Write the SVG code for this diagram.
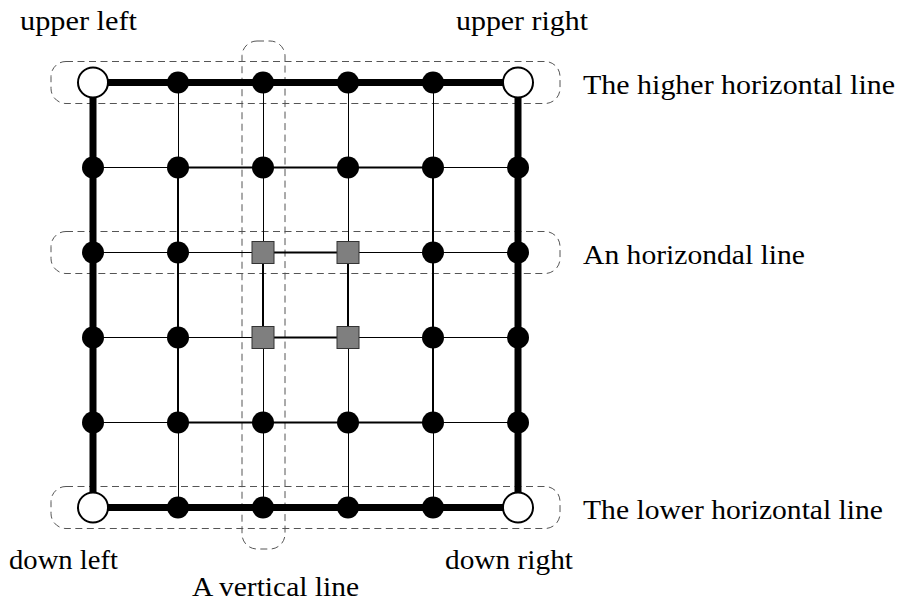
<svg xmlns="http://www.w3.org/2000/svg" width="897" height="604" viewBox="0 0 897 604">
<style>
.box{fill:none;stroke:#555;stroke-width:1;stroke-dasharray:7 4.5}
.thick{fill:none;stroke:#000;stroke-width:7;stroke-linecap:square}
.med{fill:none;stroke:#000;stroke-width:2}
.thin{fill:none;stroke:#000;stroke-width:1}
.dot{fill:#000}
.end{fill:#fff;stroke:#000;stroke-width:2}
.sq{fill:#7f7f7f;stroke:#333;stroke-width:1}
text{font-family:"Liberation Serif","DejaVu Serif",serif;font-size:27px;fill:#000}
</style>
<rect width="897" height="604" fill="#fff"/>
<g id="groups">
<rect id="higher-line" class="box" x="51" y="61.5" width="509" height="42" rx="15"/>
<rect id="horizontal-line" class="box" x="51" y="231.5" width="509" height="42" rx="15"/>
<rect id="lower-line" class="box" x="51" y="486.5" width="509" height="42" rx="15"/>
<rect id="vertical-line" class="box" x="242" y="41" width="43" height="508" rx="15"/>
</g>
<g id="connectors">
<rect class="thick" x="93" y="82.5" width="425" height="425"/>
<rect class="med" x="178" y="167.5" width="255" height="255"/>
<rect class="med" x="263" y="252.5" width="85" height="85"/>
<path class="thin" d="M93 167.5H178M433 167.5H518M93 252.5H263M348 252.5H518M93 337.5H263M348 337.5H518M93 422.5H178M433 422.5H518M178.5 82.5V167.5M178.5 422.5V507.5M263.5 82.5V252.5M263.5 337.5V507.5M348.5 82.5V252.5M348.5 337.5V507.5M433.5 82.5V167.5M433.5 422.5V507.5"/>
</g>
<g id="nodes">
<g id="n-upper-left"><circle class="end" cx="93" cy="82.5" r="15"/></g>
<g id="n-upper-right"><circle class="end" cx="518" cy="82.5" r="15"/></g>
<g id="n-down-left"><circle class="end" cx="93" cy="507.5" r="15"/></g>
<g id="n-down-right"><circle class="end" cx="518" cy="507.5" r="15"/></g>
<g id="n-r0"><circle class="dot" cx="178" cy="82.5" r="11"/><circle class="dot" cx="263" cy="82.5" r="11"/><circle class="dot" cx="348" cy="82.5" r="11"/><circle class="dot" cx="433" cy="82.5" r="11"/></g>
<g id="n-r1"><circle class="dot" cx="93" cy="167.5" r="11"/><circle class="dot" cx="178" cy="167.5" r="11"/><circle class="dot" cx="263" cy="167.5" r="11"/><circle class="dot" cx="348" cy="167.5" r="11"/><circle class="dot" cx="433" cy="167.5" r="11"/><circle class="dot" cx="518" cy="167.5" r="11"/></g>
<g id="n-r2"><circle class="dot" cx="93" cy="252.5" r="11"/><circle class="dot" cx="178" cy="252.5" r="11"/><rect class="sq" x="252" y="241.5" width="22" height="22"/><rect class="sq" x="337" y="241.5" width="22" height="22"/><circle class="dot" cx="433" cy="252.5" r="11"/><circle class="dot" cx="518" cy="252.5" r="11"/></g>
<g id="n-r3"><circle class="dot" cx="93" cy="337.5" r="11"/><circle class="dot" cx="178" cy="337.5" r="11"/><rect class="sq" x="252" y="326.5" width="22" height="22"/><rect class="sq" x="337" y="326.5" width="22" height="22"/><circle class="dot" cx="433" cy="337.5" r="11"/><circle class="dot" cx="518" cy="337.5" r="11"/></g>
<g id="n-r4"><circle class="dot" cx="93" cy="422.5" r="11"/><circle class="dot" cx="178" cy="422.5" r="11"/><circle class="dot" cx="263" cy="422.5" r="11"/><circle class="dot" cx="348" cy="422.5" r="11"/><circle class="dot" cx="433" cy="422.5" r="11"/><circle class="dot" cx="518" cy="422.5" r="11"/></g>
<g id="n-r5"><circle class="dot" cx="178" cy="507.5" r="11"/><circle class="dot" cx="263" cy="507.5" r="11"/><circle class="dot" cx="348" cy="507.5" r="11"/><circle class="dot" cx="433" cy="507.5" r="11"/></g>
</g>
<g id="labels">
<text x="20" y="30" textLength="117" lengthAdjust="spacingAndGlyphs">upper left</text>
<text x="456" y="30" textLength="132" lengthAdjust="spacingAndGlyphs">upper right</text>
<text x="583" y="94" textLength="312" lengthAdjust="spacingAndGlyphs">The higher horizontal line</text>
<text x="583" y="264" textLength="222" lengthAdjust="spacingAndGlyphs">An horizondal line</text>
<text x="583" y="519" textLength="300" lengthAdjust="spacingAndGlyphs">The lower horizontal line</text>
<text x="9" y="569" textLength="109" lengthAdjust="spacingAndGlyphs">down left</text>
<text x="445" y="569" textLength="128" lengthAdjust="spacingAndGlyphs">down right</text>
<text x="192" y="596" textLength="167" lengthAdjust="spacingAndGlyphs">A vertical line</text>
</g>
</svg>
